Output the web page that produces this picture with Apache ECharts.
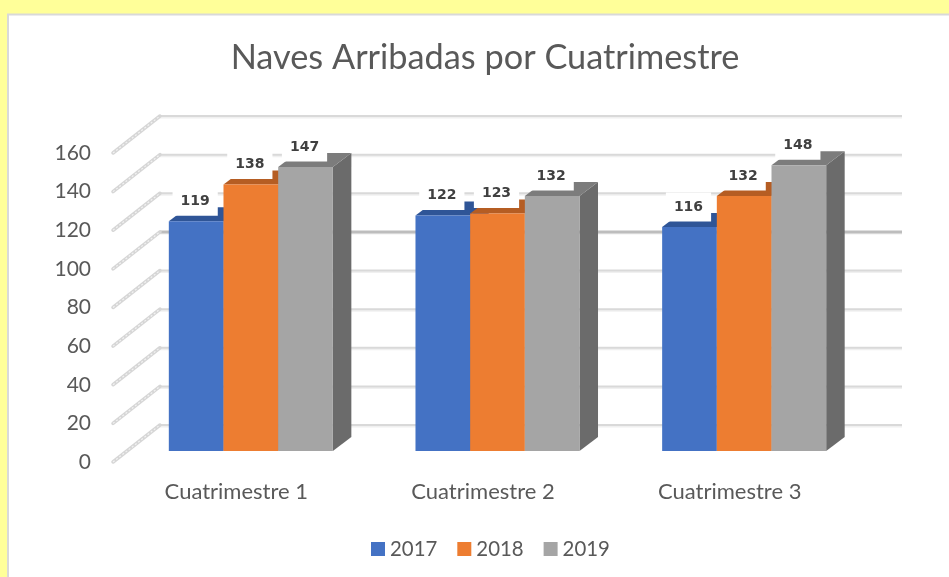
<!DOCTYPE html>
<html>
<head>
<meta charset="utf-8">
<title>Naves Arribadas por Cuatrimestre</title>
<script src="https://cdn.jsdelivr.net/npm/echarts@6/dist/echarts.min.js"></script>
<style>
  html, body { margin: 0; padding: 0; background: #ffff99; }
  #main_chart { width: 949px; height: 577px; }
</style>
</head>
<body>
<div id="main_chart"></div>
<script>
var categories = ['Cuatrimestre 1', 'Cuatrimestre 2', 'Cuatrimestre 3'];
var v2017 = [119, 122, 116];
var v2018 = [138, 123, 132];
var v2019 = [147, 132, 148];
var yTicks = [0, 20, 40, 60, 80, 100, 120, 140, 160];

var textFont = 'Lato, sans-serif';
var textColor = '#595959';

// desplazamiento del falso 3D, en pixeles
var wallDx = 47, wallDy = -37;     // plano frontal -> pared del fondo
var barDx = 14.5, barDy = -11;     // plano frontal -> cara de la barra
var depthDx = 18.5, depthDy = -14; // profundidad de la barra
var barShare = 0.665;              // parte de la banda que ocupan las 3 barras

// pared del fondo y lineas laterales
function renderWall(params, api) {
    var sys = params.coordSys;
    var v = api.value(1);
    var y = api.coord([0, v])[1];
    var gridColor = v === 100 ? '#bdbdbd' : '#d9d9d9';
    var xEnd = sys.x + sys.width + wallDx + 2;
    return {
        type: 'group',
        children: [
            {
                type: 'line',
                shape: { x1: sys.x + wallDx, y1: y + wallDy + 1.5, x2: xEnd, y2: y + wallDy + 1.5 },
                style: { stroke: '#f0f0f0', lineWidth: 2 }
            },
            {
                type: 'line',
                shape: { x1: sys.x + wallDx, y1: y + wallDy, x2: xEnd, y2: y + wallDy },
                style: { stroke: gridColor, lineWidth: v === 100 ? 3 : 2 }
            },
            {
                type: 'line',
                shape: { x1: sys.x, y1: y, x2: sys.x + wallDx, y2: y + wallDy },
                style: { stroke: '#d6d6d6', lineWidth: 3.5, lineCap: 'round' }
            },
            {
                type: 'line',
                shape: { x1: sys.x, y1: y, x2: sys.x + wallDx, y2: y + wallDy },
                style: { stroke: '#f2f2f2', lineWidth: 1.2, lineDash: [2, 2] }
            }
        ]
    };
}

function barRenderer(index, front, top, side) {
    return function (params, api) {
        var base = api.coord([api.value(0), 0]);
        var head = api.coord([api.value(0), api.value(1)]);
        var w = api.size([1, 0])[0] * barShare / 3;
        var x0 = base[0] + barDx - w * 1.5 + w * index;
        var x1 = x0 + w;
        var y0 = base[1] + barDy;
        var y1 = head[1] + barDy;
        return {
            type: 'group',
            children: [
                {
                    type: 'polygon',
                    shape: { points: [[x1, y0], [x1 + depthDx, y0 + depthDy], [x1 + depthDx, y1 + depthDy], [x1, y1]] },
                    style: { fill: side }
                },
                {
                    type: 'polygon',
                    shape: { points: [[x0, y1], [x0 + depthDx, y1 + depthDy], [x1 + depthDx, y1 + depthDy], [x1, y1]] },
                    style: { fill: top }
                },
                {
                    type: 'rect',
                    shape: { x: x0, y: y1, width: w, height: y0 - y1 },
                    style: { fill: front }
                },
                {
                    type: 'text',
                    z2: 50,
                    style: {
                        x: x0 + w / 2 - 1,
                        y: y1 - 20,
                        text: String(api.value(1)),
                        align: 'center',
                        verticalAlign: 'middle',
                        font: 'bold 14px "DejaVu Sans", sans-serif',
                        fill: '#404040',
                        backgroundColor: '#ffffff',
                        padding: [8, 8, 7, 8]
                    }
                }
            ]
        };
    };
}

function barData(values) {
    return values.map(function (v, i) { return [i, v]; });
}

var option = {
    animation: false,
    backgroundColor: '#ffff99',
    title: {
        text: 'Naves Arribadas por Cuatrimestre',
        left: 480,
        top: 36,
        textAlign: 'center',
        textStyle: { fontFamily: textFont, fontSize: 34.3, fontWeight: 'normal', color: textColor }
    },
    legend: {
        data: ['2017', '2018', '2019'],
        left: 366,
        top: 534,
        icon: 'rect',
        itemWidth: 14,
        itemHeight: 14,
        itemGap: 20,
        textStyle: { fontFamily: textFont, fontSize: 20.4, color: textColor }
    },
    grid: { left: 113, top: 153, width: 740, height: 309 },
    xAxis: {
        type: 'category',
        data: categories,
        axisLine: { show: false },
        axisTick: { show: false },
        axisLabel: { fontFamily: textFont, fontSize: 22, color: textColor, margin: 19 }
    },
    yAxis: {
        type: 'value',
        min: 0,
        max: 160,
        interval: 20,
        axisLine: { show: false },
        axisTick: { show: false },
        splitLine: { show: false },
        axisLabel: { fontFamily: textFont, fontSize: 21, color: textColor, margin: 22, padding: [2, 0, 0, 0] }
    },
    graphic: [{
        type: 'rect',
        silent: true,
        z: -1,
        shape: { x: 8, y: 14.5, width: 960, height: 580 },
        style: { fill: '#ffffff', stroke: '#d9d9d9', lineWidth: 2 }
    }],
    series: [
        {
            type: 'custom',
            silent: true,
            clip: false,
            z: 1,
            renderItem: renderWall,
            encode: { x: 0, y: 1 },
            data: yTicks.map(function (v) { return [0, v]; })
        },
        {
            name: '2017',
            type: 'custom',
            clip: false,
            z: 2,
            itemStyle: { color: '#4472c4' },
            renderItem: barRenderer(0, '#4472c4', '#2f5597', '#2f5597'),
            encode: { x: 0, y: 1 },
            data: barData(v2017)
        },
        {
            name: '2018',
            type: 'custom',
            clip: false,
            z: 3,
            itemStyle: { color: '#ed7d31' },
            renderItem: barRenderer(1, '#ed7d31', '#b55d23', '#b55d23'),
            encode: { x: 0, y: 1 },
            data: barData(v2018)
        },
        {
            name: '2019',
            type: 'custom',
            clip: false,
            z: 4,
            itemStyle: { color: '#a5a5a5' },
            renderItem: barRenderer(2, '#a5a5a5', '#7c7c7c', '#6b6b6b'),
            encode: { x: 0, y: 1 },
            data: barData(v2019)
        }
    ]
};

var dom = document.getElementById('main_chart');
var myChart = echarts.init(dom);
myChart.setOption(option, true);
</script>
</body>
</html>
